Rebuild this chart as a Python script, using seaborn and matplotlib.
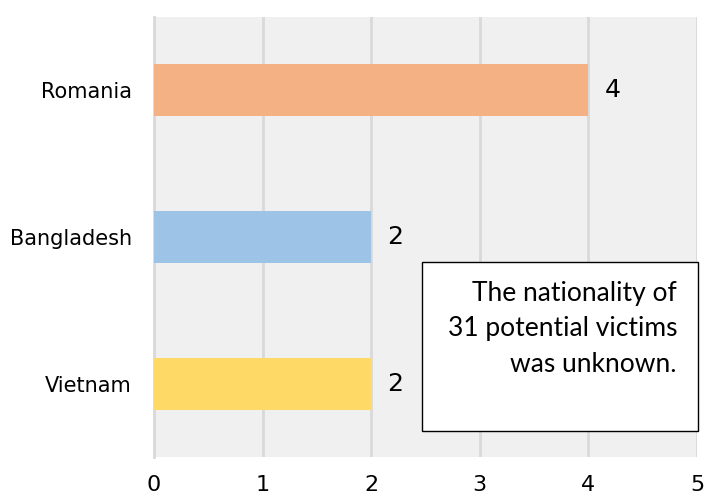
import matplotlib
matplotlib.use("Agg")
import matplotlib.pyplot as plt
import seaborn as sns
import pandas as pd

countries = ["Romania", "Bangladesh", "Vietnam"]
victims = [4, 2, 2]
bar_colors = ["#F4B183", "#9DC3E6", "#FFD966"]
x_ticks = [0, 1, 2, 3, 4, 5]
note = "The nationality of\n31 potential victims\nwas unknown."

df = pd.DataFrame({"country": countries, "victims": victims})

sns.set_theme(style="white")
plt.rcParams["font.family"] = ["DejaVu Sans"]
plt.rcParams["text.color"] = "black"

fig = plt.figure(figsize=(7.05, 4.98), dpi=100)
ax = fig.add_axes([154 / 705, 41 / 498, 543 / 705, 440 / 498])
ax.set_facecolor("#F0F0F0")

sns.barplot(data=df, x="victims", y="country", hue="country", palette=bar_colors,
            width=0.355, legend=False, ax=ax, zorder=3, saturation=1, linewidth=0)

ax.set_xlim(0, 5)
ax.set_ylim(2.5, -0.5)
ax.set_xticks(x_ticks)
ax.set_xticklabels([str(t) for t in x_ticks])
ax.xaxis.grid(True, color="#D9D9D9", linewidth=2, zorder=0)
ax.set_axisbelow(True)
for s in ["top", "right", "bottom"]:
    ax.spines[s].set_visible(False)
ax.spines["left"].set_color("#D9D9D9")
ax.spines["left"].set_linewidth(2)
ax.set_xlabel("")
ax.set_ylabel("")
ax.tick_params(axis="both", length=0, colors="black")
ax.tick_params(axis="x", pad=13, labelsize=16)
ax.tick_params(axis="y", pad=16, labelsize=15)

for i, v in enumerate(victims):
    ax.text(v + 0.15, i, str(v), va="center", ha="left", fontsize=18, color="black", zorder=5)

# note box
box = plt.Rectangle((422 / 705, 67 / 498), 276 / 705, 169 / 498, transform=fig.transFigure,
                    facecolor="white", edgecolor="black", linewidth=1, zorder=10)
fig.add_artist(box)
fig.text(677 / 705, (498 - 281) / 498, note, ha="right", va="top", fontsize=19,
         family="Lato", linespacing=1.52, color="black", zorder=11)

fig.savefig("out.png", dpi=100)
